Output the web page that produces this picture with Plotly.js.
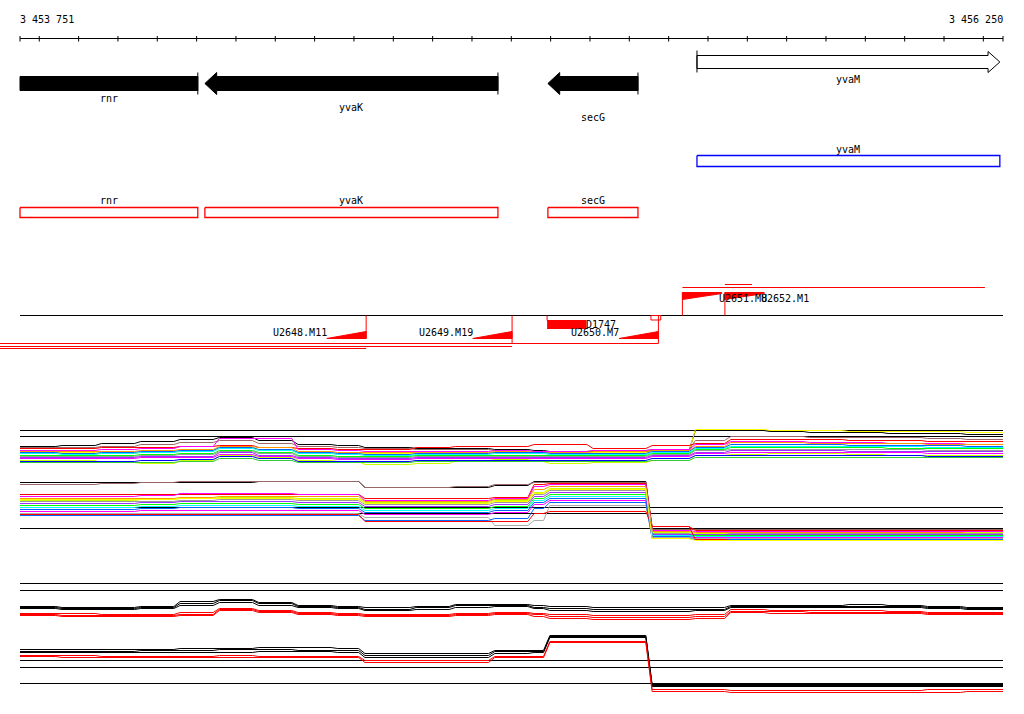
<!DOCTYPE html>
<html><head><meta charset="utf-8">
<script src="https://cdn.plot.ly/plotly-3.0.1.min.js"></script>
<style>html,body{margin:0;padding:0;background:#fff}#chart{width:1024px;height:714px}</style>
</head><body><div id="chart"></div>
<script>
// ---------------- data ----------------
const VIEW_START = 3453751, VIEW_END = 3456250;
const rulerTicks = [3453800,3453900,3454000,3454100,3454200,3454300,3454400,3454500,3454600,3454700,3454800,3454900,3455000,3455100,3455200,3455300,3455400,3455500,3455600,3455700,3455800,3455900,3456000,3456100,3456200];
const rulerLabels = ['3 453 751','3 456 250'];

const geneNames  = ['rnr','yvaK','secG','yvaM'];
const geneStart  = [3453480, 3454221, 3455093, 3455472];
const geneEnd    = [3454203, 3454966, 3455322, 3456242];
const geneStrand = ['-','-','-','+'];

const tuNames  = ['U2648.M11','U2649.M19','U2650.M7','U2651.M8','U2652.M1'];
const tuStart  = [3453560, 3453560, 3453560, 3455435, 3455543];
const tuEnd    = [3454631, 3455002, 3455374, 3456204, 3455612];
const tuStrand = ['-','-','-','+','+'];

const siteNames = ['D1747'];
const siteStart = [3455091];
const siteEnd   = [3455190];
const boxStart  = [3455355];
const boxEnd    = [3455380];

// positions (bp) of the expression profile steps
const profilePos = [3453751,3453850,3453950,3454050,3454150,3454250,3454350,3454450,3454550,3454620,3454750,3454850,3454950,3455050,3455090,3455200,3455350,3455460,3455550,3455650,3455750,3455850,3455950,3456050,3456150,3456250];

// reference levels of the profile tracks
const refLevels = [430,436,507,513,528,583,590,660,667,683];

// profile track A
const a01 = [446,445,443,441,439,437,440,444,445,447,448,448,449,450,451,451,450,430,430,431,432,432,433,433,434,440];
const a02 = [452,452,453,452,451,447,450,452,453,453,453,452,452,452,452,452,451,429,429,430,430,431,431,431,432,440];
const a03 = [447,447,446,444,442,440,443,446,447,448,449,449,450,451,451,450,449,440,436,436,437,437,437,438,439,446];
const a04 = [448,448,447,447,446,445,447,448,449,449,447,446,446,444,444,448,445,443,439,439,439,440,440,441,441,448];
const a05 = [450,450,449,448,446,438,438,449,450,451,451,451,450,451,451,450,449,444,441,441,442,442,443,443,444,449];
const a06 = [451,451,451,450,449,446,447,451,452,452,452,452,451,452,452,451,450,446,442,442,443,443,443,444,444,450];
const a07 = [452,453,452,451,450,447,449,452,453,454,453,453,452,452,453,453,451,447,444,444,444,445,445,445,446,451];
const a08 = [453,454,453,452,451,448,450,453,454,455,454,454,453,453,454,454,452,448,446,446,446,446,446,447,447,451];
const a09 = [455,455,455,454,453,450,452,455,456,456,455,455,455,455,455,455,453,449,447,447,447,447,448,448,448,452];
const a10 = [456,456,456,455,454,451,453,456,457,457,456,456,456,456,456,456,454,450,449,449,449,449,449,450,450,453];
const a11 = [457,457,457,456,456,452,455,457,458,458,457,457,457,457,457,457,455,452,450,450,450,451,451,451,451,454];
const a12 = [458,458,458,457,457,454,456,458,459,459,458,458,458,458,458,458,456,453,452,452,452,452,452,453,453,455];
const a13 = [460,460,462,463,460,455,457,460,461,464,463,460,459,461,463,462,460,455,454,453,453,454,455,455,455,456];
const a14 = [461,461,461,460,459,456,458,461,461,461,460,460,460,460,460,460,458,455,455,455,455,455,455,456,456,456];
const a15 = [462,462,462,462,461,458,460,462,462,462,461,461,461,461,461,461,460,457,457,457,457,457,457,457,457,457];

// profile track B
const b01 = [482,482,482,482,482,482,481,481,481,487,487,487,485,481,481,481,528,528,528,528,528,528,528,528,528,528];
const b02 = [484,484,483,482,481,481,481,481,481,487,487,486,484,482,482,482,529,529,529,529,529,529,529,529,529,529];
const b03 = [494,494,494,494,494,494,494,494,494,498,498,498,497,484,483,483,526,530,530,530,530,530,530,530,530,530];
const b04 = [496,496,496,495,493,493,493,494,494,500,500,500,498,486,484,484,530,531,531,531,531,531,531,531,531,531];
const b05 = [498,498,498,498,497,496,496,496,496,501,501,501,499,489,486,486,531,532,532,532,532,532,532,532,532,531];
const b06 = [500,500,500,499,498,497,497,498,498,502,502,502,500,492,488,488,532,533,533,533,533,533,533,533,532,532];
const b07 = [501,501,501,501,500,499,499,500,500,504,504,504,502,494,490,490,533,534,533,533,533,533,533,533,533,533];
const b08 = [503,503,503,502,501,501,501,502,502,506,506,506,504,496,492,492,534,534,534,534,534,534,534,534,534,534];
const b09 = [505,505,505,504,503,503,503,504,504,508,508,508,506,498,494,494,535,535,535,535,535,535,535,535,535,535];
const b10 = [507,507,507,506,505,505,505,506,506,510,510,510,508,500,496,496,535,536,536,536,536,536,536,536,536,535];
const b11 = [509,509,509,508,507,507,507,508,508,512,512,512,510,502,498,498,536,537,537,537,537,537,537,537,537,536];
const b12 = [511,511,511,510,510,510,510,510,510,514,514,514,512,504,500,500,537,537,537,537,537,537,537,537,537,537];
const b13 = [513,513,513,513,513,513,513,513,513,517,517,517,525,520,505,505,537,538,538,538,538,538,538,538,538,538];
const b14 = [515,515,515,515,515,515,515,515,515,520,520,520,518,508,502,502,538,539,539,539,539,539,539,539,539,539];
const b15 = [514,514,514,514,514,514,514,514,514,521,521,521,521,513,511,511,526,539,540,540,540,540,540,540,540,540];
const b16 = [499,499,499,499,498,498,498,499,499,503,503,503,501,493,489,489,538,540,540,540,540,540,540,540,540,540];

// profile track C
const c01 = [606,607,607,606,601,599,602,605,606,607,606,604,604,605,606,607,607,607,605,605,605,604,605,606,607,607];
const c02 = [607,608,608,607,603,600,603,606,607,609,607,605,605,607,608,609,609,609,606,606,606,606,606,607,608,608];
const c03 = [608,609,609,608,605,602,605,607,608,610,609,607,606,608,610,611,611,610,607,607,607,607,607,608,609,609];
const c04 = [613,613,614,614,612,608,610,612,613,614,614,613,612,613,614,615,615,614,609,610,610,610,611,612,612,613];
const c05 = [614,615,615,615,614,609,611,613,614,615,615,614,613,614,616,617,617,616,611,611,612,612,612,613,613,615];
const c06 = [615,616,616,616,615,610,612,614,615,616,616,615,614,616,618,619,619,618,612,613,613,613,613,614,614,617];

// profile track D
const d01 = [649,649,649,649,648,648,647,647,648,653,653,653,650,650,635,635,684,684,684,684,684,684,684,684,684,684];
const d02 = [651,651,651,650,650,649,649,650,650,655,655,655,651,651,636,636,685,685,685,685,685,685,685,685,685,685];
const d03 = [652,652,652,652,652,652,651,651,652,657,657,657,653,652,637,637,686,686,686,686,686,686,686,686,686,686];
const d04 = [655,655,656,656,656,655,656,656,656,660,660,660,656,656,641,641,689,689,690,690,690,690,690,689,689,689];
const d05 = [656,657,657,657,657,657,657,657,657,662,662,662,657,657,642,642,691,691,692,692,692,692,692,692,691,691];

// ---------------- styles / layout constants ----------------
const FONT = {family:'DejaVu Sans Mono, Liberation Mono, monospace', size:10, color:'#000'};
const BP_PER_PX = (VIEW_END - VIEW_START) / 983;
const X_MIN = VIEW_START - 20 * BP_PER_PX;
const X_MAX = X_MIN + 1024 * BP_PER_PX;
const HEAD_BP = 30, WEDGE_BP = 100, RAMP_BP = 16;
const ROW = {'-':{bt:76,bb:90,ht:72,hb:94,mid:83,barT:72,barB:94},
             '+':{bt:55,bb:68,ht:51,hb:72,mid:61.5,barT:50,barB:72}};
const geneFill = ['#000000','#000000','#000000','#ffffff'];
const geneLabelY = [98,107,117,79];
const BOX = {'+':{t:155,b:166,ly:149,c:'#0000ff'}, '-':{t:207,b:217,ly:200,c:'#ff0000'}};
const tuLineY = [348,346,343,287,284];
const tuBarEnd = [338,343,343,292,292];
const colA = ['#000000','#ffff00','#996666','#ff0000','#ff00ff','#ff9900','#0066ff','#00ffff','#00ff00','#999999','#9933ff','#ff00ff','#ccff00','#0000ff','#33cc33'];
const colB = ['#000000','#996666','#ff0000','#ff00ff','#ff9900','#ccff00','#999999','#9933ff','#00ff00','#00ffff','#0066ff','#ff00ff','#aaaaaa','#0066ff','#ff0000','#ffff00'];
const colC = ['#000000','#000000','#000000','#ff0000','#ff0000','#ff0000'];
const colD = ['#000000','#000000','#000000','#ff0000','#ff0000'];

// ---------------- build ----------------
const traces = [];
const ann = [];
function lines(xs, ys, color, w, shape){
  traces.push({type:'scatter',mode:'lines',x:xs,y:ys,line:{color:color,width:w,shape:shape||'linear'},hoverinfo:'skip',connectgaps:false});
}
function poly(xs, ys, fill, color, w){
  traces.push({type:'scatter',mode:'lines',x:xs,y:ys,fill:'toself',fillcolor:fill,line:{color:color,width:w},hoverinfo:'skip'});
}
function label(x, y, text, xanchor){
  ann.push({x:x,y:y,xref:'x',yref:'y',text:text,showarrow:false,xanchor:xanchor||'center',yanchor:'middle',font:FONT,borderpad:0,borderwidth:0});
}
// step profile with short slanted transitions between levels
function profile(pos, vals, color){
  const xs=[pos[0]], ys=[vals[0]];
  for(let i=1;i<pos.length-1;i++){
    xs.push(pos[i]-RAMP_BP/2, pos[i]+RAMP_BP/2);
    ys.push(vals[i-1], vals[i]);
  }
  xs.push(pos[pos.length-1]); ys.push(vals[pos.length-2]);
  lines(xs, ys, color, 1);
}

// ruler
lines([VIEW_START, VIEW_END],[38,38],'#000',1);
{
  const tx=[], ty=[];
  [VIEW_START].concat(rulerTicks,[VIEW_END]).forEach(t=>{tx.push(t,t,null);ty.push(35.5,41,null);});
  lines(tx,ty,'#000',1);
}
label(VIEW_START, 19, rulerLabels[0], 'left');
label(VIEW_END, 19, rulerLabels[1], 'right');

// genes (arrows)
geneNames.forEach((g,i)=>{
  const s=Math.max(geneStart[i],VIEW_START), e=Math.min(geneEnd[i],VIEW_END);
  const st=geneStrand[i], r=ROW[st];
  let xs, ys;
  if(st==='+'){
    if(geneEnd[i]<=VIEW_END){ const b=e-HEAD_BP; xs=[s,b,b,e,b,b,s,s]; ys=[r.bt,r.bt,r.ht,r.mid,r.hb,r.bb,r.bb,r.bt]; }
    else { xs=[s,e,e,s,s]; ys=[r.bt,r.bt,r.bb,r.bb,r.bt]; }
    poly(xs,ys,geneFill[i],'#000',1);
    lines([s,s],[r.barT,r.barB],'#000',1);
  } else {
    if(geneStart[i]>=VIEW_START){ const b=s+HEAD_BP; xs=[e,b,b,s,b,b,e,e]; ys=[r.bt,r.bt,r.ht,r.mid,r.hb,r.bb,r.bb,r.bt]; }
    else { xs=[s,e,e,s,s]; ys=[r.bt,r.bt,r.bb,r.bb,r.bt]; }
    poly(xs,ys,geneFill[i],'#000',1);
    lines([e,e],[r.barT,r.barB],'#000',1);
  }
  label((s+e)/2, geneLabelY[i], g);
  // annotation boxes
  const bx=BOX[st];
  lines([s,e,e,s,s],[bx.t,bx.t,bx.b,bx.b,bx.t],bx.c,1.3);
  label((s+e)/2, bx.ly, g);
});

// transcription units
lines([VIEW_START, VIEW_END],[315,315],'#000',1);
tuNames.forEach((n,i)=>{
  lines([tuStart[i],tuEnd[i]],[tuLineY[i],tuLineY[i]],'#ff0000',1);
  if(tuStrand[i]==='-'){
    const e=tuEnd[i], b=e-WEDGE_BP;
    poly([b,e,e,b],[338,331,338,338],'#ff0000','#ff0000',1);
    lines([e,e],[315,tuBarEnd[i]],'#ff0000',1);
    label(b, 332, n, 'right');
  } else {
    const s=tuStart[i], b=s+WEDGE_BP;
    poly([s,b,b,s,s],[292,292,293,299,292],'#ff0000','#ff0000',1);
    lines([s,s],[tuBarEnd[i],315],'#ff0000',1);
    label(b-8, 298, n, 'left');
  }
});
siteNames.forEach((n,i)=>{
  poly([siteStart[i],siteEnd[i],siteEnd[i],siteStart[i]],[320,320,328,328],'#ff0000','#ff0000',1);
  lines([siteStart[i],siteStart[i]],[315,320],'#ff0000',1);
  label(siteEnd[i], 323.5, n, 'left');
});
boxStart.forEach((s,i)=>{
  lines([s,boxEnd[i],boxEnd[i],s,s],[315,315,319.5,319.5,315],'#ff0000',1);
});

// profile reference lines
{
  const rx=[], ry=[];
  refLevels.forEach(l=>{rx.push(VIEW_START,VIEW_END,null);ry.push(l,l,null);});
  lines(rx,ry,'#000',1);
}
// profiles
[a01,a02,a03,a04,a05,a06,a07,a08,a09,a10,a11,a12,a13,a14,a15].forEach((s,i)=>profile(profilePos,s,colA[i]));
[b01,b02,b03,b04,b05,b06,b07,b08,b09,b10,b11,b12,b13,b14,b15,b16].forEach((s,i)=>profile(profilePos,s,colB[i]));
[c01,c02,c03,c04,c05,c06].forEach((s,i)=>profile(profilePos,s,colC[i]));
[d01,d02,d03,d04,d05].forEach((s,i)=>profile(profilePos,s,colD[i]));

const layout = {
  width:1024, height:714,
  margin:{l:0,r:0,t:0,b:0,pad:0},
  paper_bgcolor:'#ffffff', plot_bgcolor:'#ffffff',
  showlegend:false,
  xaxis:{range:[X_MIN,X_MAX],visible:false,fixedrange:true},
  yaxis:{range:[713.5,-0.5],visible:false,fixedrange:true},
  annotations:ann,
  font:FONT
};
Plotly.newPlot('chart', traces, layout, {staticPlot:true, displayModeBar:false});
</script>
</body></html>
